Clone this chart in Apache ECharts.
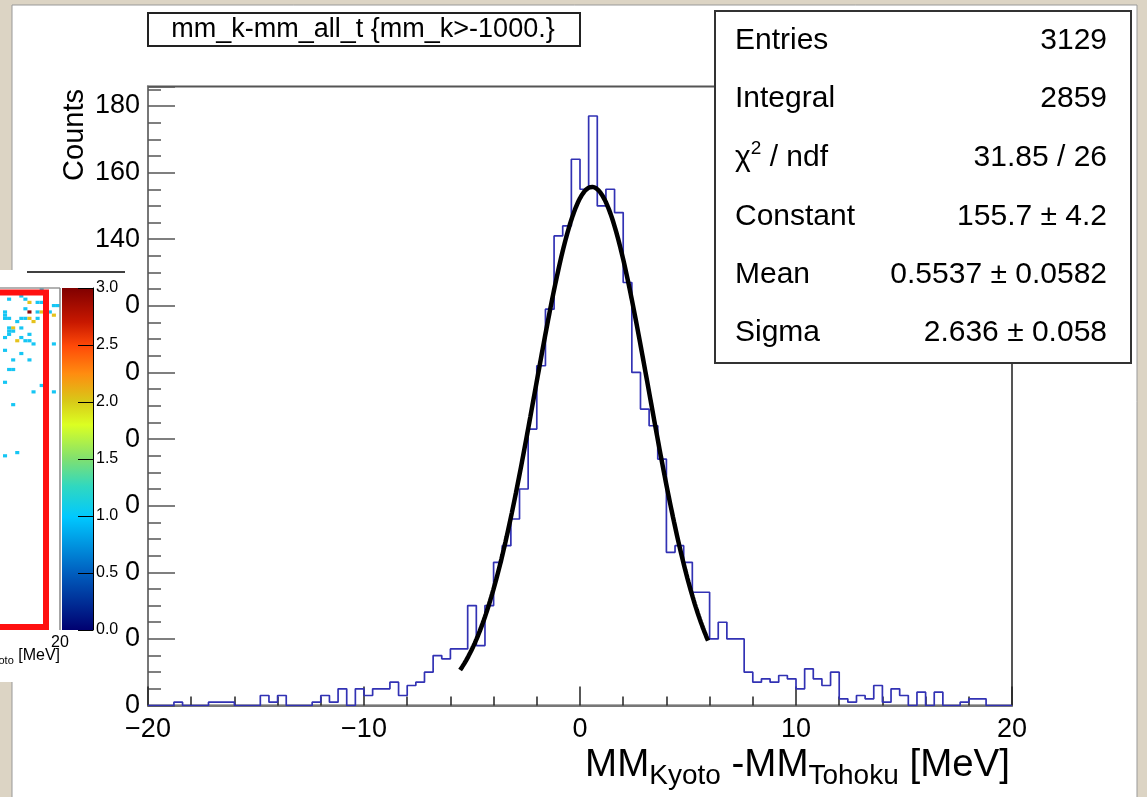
<!DOCTYPE html>
<html><head><meta charset="utf-8">
<script src="https://cdn.jsdelivr.net/npm/echarts@6/dist/echarts.min.js"></script>
<style>html,body{margin:0;padding:0;background:#dcd4c4;}#c{width:1147px;height:797px;}</style>
</head><body><div id="c"></div>
<script>
// ---- histogram: 100 bins from -20 to 20 MeV (bin width 0.4) ----
const binLow = -20;
const binWidth = 0.4;
const counts = [
  0,0,0,1,0,0,0,1,1,1,
  0,0,0,3,1,3,0,0,0,1,
  3,1,5,0,5,3,5,5,7,3,
  6,7,10,15,14,17,17,30,18,30,
  43,48,56,65,83,102,119,141,144,164,
  155,177,150,155,148,127,100,89,84,74,
  46,48,43,34,34,20,25,20,20,10,
  7,8,7,9,8,5,11,8,6,10,
  2,1,3,2,6,1,5,3,0,4,
  0,4,0,0,1,2,2,0,0,0
];
// ---- Gaussian fit (stats box values) ----
const fitConstant = 155.7;
const fitMean = 0.5537;
const fitSigma = 2.636;
const fitRange = [-5.55, 5.93];
// ---- stats box ----
const statsLabels = ['Entries', 'Integral', 'chi2', 'Constant', 'Mean', 'Sigma'];
const statsValues = ['3129', '2859', '31.85 / 26', '155.7 \u00b1 4.2', '0.5537 \u00b1 0.0582', '2.636 \u00b1 0.058'];
const histTitle = 'mm_k-mm_all_t {mm_k>-1000.}';
// ---- inset (partial 2D histogram): [column, row, content] ----
const insetCells = [
  [9,0,1],[4,2,1],[1,3,1],[5,3,1],[6,4,2],[8,4,1],[9,4,1],[12,5,1],[13,5,1],[5,6,1],
  [6,7,3],[0,7,1],[8,7,1],[9,7,2],[11,7,1],[12,8,2],[0,8,1],
  [0,9,1],[1,9,1],[4,9,1],[5,9,1],[8,9,1],[6,9,2],[3,10,1],[7,10,2],
  [2,12,2],[1,12,1],[4,12,1],[1,13,1],[2,13,1],[6,14,1],[1,14,1],[0,15,1],[4,15,1],
  [3,16,2],[5,16,1],[6,16,1],[7,17,1],[12,17,1],[0,19,1],[4,20,1],[2,22,1],[6,22,1],
  [1,25,1],[2,25,1],[0,29,1],[9,30,1],[7,32,1],[12,32,1],[2,36,1],[3,51,1],[0,52,1]
];
const colorbarMax = [3];

const FONT = '"Liberation Sans", Arial, Helvetica, sans-serif';
const cellColors = {1: '#16c6f4', 2: '#e6c21c', 3: '#8a0a0a'};

const histData = counts.map((c, i) => [binLow + i * binWidth, c]);
histData.push([binLow + counts.length * binWidth, counts[counts.length - 1]]);

const fitData = [];
const NF = 240;
for (let k = 0; k <= NF; k++) {
  const x = fitRange[0] + (fitRange[1] - fitRange[0]) * k / NF;
  const z = (x - fitMean) / fitSigma;
  fitData.push([x, fitConstant * Math.exp(-0.5 * z * z)]);
}

const chart = echarts.init(document.getElementById('c'), null, {renderer: 'canvas'});

const statGraphics = [];
const rowY = [41, 99, 158, 217, 275, 333];
statsLabels.forEach((lab, i) => {
  if (lab === 'chi2') {
    statGraphics.push({type: 'text', x: 735, y: rowY[i], z: 21, style: {
      text: '{n|\u03c7}{sup|2}{n| / ndf}', align: 'left', verticalAlign: 'middle',
      rich: {n: {fontSize: 30, fontFamily: FONT, fill: '#000', lineHeight: 38, verticalAlign: 'middle'},
             sup: {fontSize: 19, fontFamily: FONT, fill: '#000', lineHeight: 22, verticalAlign: 'top'}}}});
  } else {
    statGraphics.push({type: 'text', x: 735, y: rowY[i], z: 21, style: {
      text: lab, align: 'left', verticalAlign: 'middle', fontSize: 30, fontFamily: FONT, fill: '#000'}});
  }
  statGraphics.push({type: 'text', x: 1107, y: rowY[i], z: 21, style: {
    text: statsValues[i], align: 'right', verticalAlign: 'middle', fontSize: 30, fontFamily: FONT, fill: '#000'}});
});

const option = {
  animation: false,
  backgroundColor: '#dcd4c4',
  grid: [
    {left: 148, top: 86.5, width: 864, height: 619, show: true, borderColor: '#555', borderWidth: 2, backgroundColor: '#fff', z: 2},
    {left: 0, top: 288, width: 60, height: 342, show: false, z: 7},
    {left: 62, top: 288, width: 31, height: 342, show: false, z: 7}
  ],
  xAxis: [
    {gridIndex: 0, type: 'value', min: -20, max: 20, interval: 10, z: 3,
      axisLine: {show: true, onZero: false, lineStyle: {color: '#777', width: 2}},
      axisTick: {show: true, inside: true, length: 19, lineStyle: {color: '#222', width: 1.5}},
      minorTick: {show: true, splitNumber: 5, length: 9, lineStyle: {color: '#222', width: 1.5}},
      splitLine: {show: false}, minorSplitLine: {show: false},
      axisLabel: {fontSize: 27, color: '#000', margin: 11, fontFamily: FONT,
        formatter: v => (v < 0 ? '\u2212' + Math.abs(v) : String(v))}},
    {gridIndex: 1, type: 'value', min: 6, max: 20, interval: 2, z: 8,
      axisLine: {show: false, onZero: false}, axisTick: {show: false}, splitLine: {show: false},
      axisLabel: {fontSize: 16, margin: 5, color: '#000', fontFamily: FONT, formatter: v => (v === 20 ? '20' : '')}},
    {gridIndex: 2, type: 'category', data: ['z'], show: false}
  ],
  yAxis: [
    {gridIndex: 0, type: 'value', min: 0, max: 185.85, interval: 20, z: 3,
      axisLine: {show: true, onZero: false, lineStyle: {color: '#777', width: 2}},
      axisTick: {show: true, inside: true, length: 27, lineStyle: {color: '#555', width: 1.5}},
      splitLine: {show: false},
      axisLabel: {fontSize: 27, color: '#000', margin: 8, fontFamily: FONT,
        formatter: v => (Math.abs(v % 20) < 1e-9 ? String(v) : '')}},
    {gridIndex: 0, type: 'value', min: 0, max: 185.85, interval: 5, z: 3, position: 'left',
      axisLine: {show: false, onZero: false}, splitLine: {show: false}, axisLabel: {show: false},
      axisTick: {show: true, inside: true, length: 13, lineStyle: {color: '#555', width: 1.5}}},
    {gridIndex: 1, type: 'value', min: 0, max: 107, inverse: true, show: false},
    {gridIndex: 2, type: 'value', min: 0, max: 3, interval: 0.5, position: 'right', z: 9,
      axisLine: {show: true, onZero: false, lineStyle: {color: '#000', width: 1}},
      axisTick: {show: true, inside: true, length: 15, lineStyle: {color: '#000', width: 1}},
      splitLine: {show: false},
      axisLabel: {fontSize: 16, margin: 3, color: '#000', fontFamily: FONT, formatter: v => v.toFixed(1)}}
  ],
  series: [
    {type: 'line', xAxisIndex: 0, yAxisIndex: 0, step: 'end', data: histData, showSymbol: false, z: 4,
      lineStyle: {color: '#3232b4', width: 1.7}},
    {type: 'line', xAxisIndex: 0, yAxisIndex: 0, data: fitData, showSymbol: false, z: 5,
      lineStyle: {color: '#000', width: 4.5}},
    {type: 'custom', xAxisIndex: 1, yAxisIndex: 2, data: insetCells, z: 9, clip: true,
      encode: {x: 0, y: 1},
      renderItem: (params, api) => {
        const c = api.value(0), r = api.value(1), v = api.value(2);
        const p0 = api.coord([6 + c, r]);
        const p1 = api.coord([7 + c, r + 1]);
        return {type: 'rect', shape: {x: Math.min(p0[0], p1[0]), y: Math.min(p0[1], p1[1]),
          width: Math.abs(p1[0] - p0[0]), height: Math.abs(p1[1] - p0[1])},
          style: {fill: cellColors[v]}};
      }},
    {type: 'bar', xAxisIndex: 2, yAxisIndex: 3, data: colorbarMax, barWidth: '100%', z: 8,
      itemStyle: {color: new echarts.graphic.LinearGradient(0, 0, 0, 1, [
        {offset: 0, color: '#800000'}, {offset: 0.1, color: '#c81800'}, {offset: 0.17, color: '#ff4a08'},
        {offset: 0.25, color: '#ff8c10'}, {offset: 0.33, color: '#d8c818'}, {offset: 0.4, color: '#dcff22'},
        {offset: 0.5, color: '#80e070'}, {offset: 0.58, color: '#30d8c0'}, {offset: 0.67, color: '#00c8ff'},
        {offset: 0.83, color: '#0060c0'}, {offset: 1, color: '#000070'}])}}
  ],
  graphic: [
    {type: 'rect', z: 1, shape: {x: 12, y: 5, width: 1125, height: 800}, style: {fill: '#fff', stroke: '#999', lineWidth: 1}},
    {type: 'rect', z: 6, shape: {x: 0, y: 270, width: 126, height: 412}, style: {fill: '#fff'}},
    {type: 'line', z: 10, shape: {x1: 0, y1: 288, x2: 60, y2: 288}, style: {stroke: '#999', lineWidth: 1.5}},
    {type: 'line', z: 10, shape: {x1: 60, y1: 288, x2: 60, y2: 630}, style: {stroke: '#888', lineWidth: 1.5}},
    {type: 'line', z: 10, shape: {x1: 27, y1: 272, x2: 125, y2: 272}, style: {stroke: '#000', lineWidth: 1.5}},
    {type: 'rect', z: 10, shape: {x: -20, y: 292.5, width: 66, height: 334.5}, style: {fill: null, stroke: '#ff1010', lineWidth: 6}},
    {type: 'text', z: 10, x: 60, y: 656, style: {text: '{m|MM}{s|Kyoto}{m| [MeV]}', align: 'right', verticalAlign: 'middle',
      rich: {m: {fontSize: 16, fontFamily: FONT, fill: '#000', lineHeight: 20, verticalAlign: 'middle'},
             s: {fontSize: 11, fontFamily: FONT, fill: '#000', lineHeight: 11, verticalAlign: 'bottom'}}}},
    {type: 'rect', z: 20, shape: {x: 148, y: 13, width: 432, height: 33}, style: {fill: '#fff', stroke: '#222', lineWidth: 2}},
    {type: 'text', z: 21, x: 363, y: 30, style: {text: histTitle, align: 'center', verticalAlign: 'middle', fontSize: 27, fontFamily: FONT, fill: '#000'}},
    {type: 'rect', z: 20, shape: {x: 715, y: 11, width: 416, height: 352}, style: {fill: '#fff', stroke: '#333', lineWidth: 2}},
    ...statGraphics,
    {type: 'text', z: 10, x: 75, y: 135, rotation: Math.PI / 2, style: {text: 'Counts', align: 'center', verticalAlign: 'middle', fontSize: 29, fontFamily: FONT, fill: '#000'}},
    {type: 'text', z: 10, x: 1010, y: 765, style: {text: '{m|MM}{s|Kyoto}{m| -MM}{s|Tohoku}{m| [MeV]}', align: 'right', verticalAlign: 'middle',
      rich: {m: {fontSize: 38.5, fontFamily: FONT, fill: '#000', lineHeight: 50, verticalAlign: 'middle'},
             s: {fontSize: 28, fontFamily: FONT, fill: '#000', lineHeight: 28, verticalAlign: 'bottom'}}}}
  ]
};
chart.setOption(option);
</script>
</body></html>
